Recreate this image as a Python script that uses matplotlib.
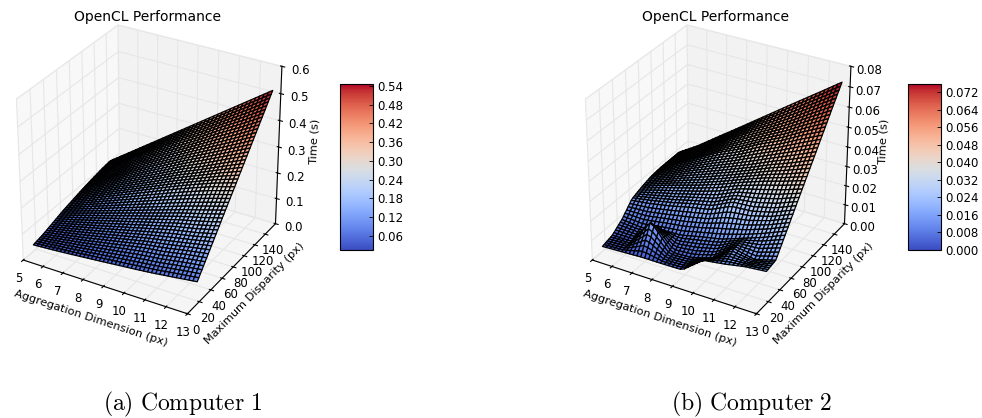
import numpy as np
import matplotlib
matplotlib.use("Agg")
import matplotlib.pyplot as plt
from matplotlib import cm
from matplotlib.colors import Normalize

# Values (one row per disparity, one column per aggregation size)
aggregation = [5, 6, 7, 8, 9, 10, 11, 12, 13]
disparity = [16, 32, 48, 64, 80, 96, 112, 128, 144]

time_computer1 = [
    [.025, .030, .036, .043, .050, .057, .065, .075, .085],
    [.034, .047, .060, .075, .090, .105, .115, .130, .142],
    [.047, .065, .085, .105, .125, .145, .165, .180, .199],
    [.060, .085, .110, .135, .160, .185, .210, .233, .256],
    [.070, .103, .136, .168, .200, .232, .262, .290, .3125],
    [.080, .118, .156, .193, .230, .268, .300, .335, .369],
    [.088, .130, .175, .220, .263, .305, .345, .385, .426],
    [.095, .145, .195, .245, .295, .340, .390, .435, .483],
    [.100, .155, .210, .265, .320, .375, .430, .485, .540],
]
time_computer2 = [
    [.0025, .0030, .0035, .0035, .0037, .0120, .0135, .0155, .0165],
    [.0040, .0040, .0175, .0050, .0055, .0085, .0170, .0146, .0175],
    [.0080, .0070, .0085, .0095, .0120, .0140, .0175, .0215, .0259],
    [.0140, .0155, .0175, .0200, .0220, .0270, .0275, .0300, .0343],
    [.0160, .0195, .0225, .0255, .0290, .0330, .0365, .0395, .0427],
    [.0175, .0215, .0260, .0300, .0340, .0380, .0425, .0465, .0510],
    [.0180, .0235, .0290, .0345, .0390, .0445, .0490, .0545, .0594],
    [.0180, .0240, .0305, .0370, .0435, .0490, .0550, .0615, .0678],
    [.0180, .0244, .0318, .0391, .0465, .0539, .0613, .0686, .0760],
]
cbar_ticks1 = [.06, .12, .18, .24, .30, .36, .42, .48, .54]
cbar_ticks2 = [0, .008, .016, .024, .032, .040, .048, .056, .064, .072]
xticks = [5, 6, 7, 8, 9, 10, 11, 12, 13]
yticks = [0, 20, 40, 60, 80, 100, 120, 140]
zticks1 = [0, .1, .2, .3, .4, .5, .6]
zticks2 = [0, .01, .02, .03, .04, .05, .06, .07, .08]
W, H = 982, 418
MESH_X, MESH_Y = 42, 50


def refine(table):
    """Resample the read table on the fine facet mesh of the surface."""
    t = np.asarray(table, float)
    xf = np.linspace(aggregation[0], aggregation[-1], MESH_X)
    yf = np.linspace(disparity[0], disparity[-1], MESH_Y)
    a = np.array([np.interp(xf, aggregation, row) for row in t])
    z = np.array([np.interp(yf, disparity, col) for col in a.T]).T
    X, Y = np.meshgrid(xf, yf)
    return X, Y, z


def panel(fig, dx, table, zt, zfmt, zmax, cb_t, cb_fmt, vmin, vmax, cap, cbx):
    ax = fig.add_axes([(dx - 33) / W, 1 - 341 / H, 330 / W, 345 / H],
                      projection="3d")
    ax.set_proj_type("persp", focal_length=1)
    ax.set_box_aspect((1, 1, .97), zoom=.955)
    ax.patch.set_alpha(0)
    X, Y, Z = refine(table)
    norm = Normalize(vmin, vmax)
    ax.plot_surface(X, Y, Z, rstride=1, cstride=1, cmap=cm.coolwarm, norm=norm,
                    edgecolor="black", linewidth=0.9, antialiased=True)
    ax.view_init(30, -60)
    ax.set_xlim(5, 13)
    ax.set_ylim(0, 160)
    ax.set_zlim(0, zmax)
    ax.set_xticks(xticks)
    ax.set_yticks(yticks)
    ax.set_zticks(zt)
    ax.set_zticklabels([zfmt % v for v in zt])
    ax.tick_params(labelsize=8.5, pad=-2)
    ax.tick_params(axis="z", pad=1)
    ax.set_xlabel("Aggregation Dimension (px)", fontsize=8.2, labelpad=-5)
    ax.set_ylabel("Maximum Disparity (px)", fontsize=8.2, labelpad=-5)
    ax.set_zlabel("Time (s)", fontsize=8.2, labelpad=-3)
    for a in (ax.xaxis, ax.yaxis, ax.zaxis):
        a._axinfo["grid"]["linewidth"] = 0.8
        a._axinfo["grid"]["color"] = "#e6e6e6"
        a._axinfo["tick"]["inward_factor"] = 0.2
        a._axinfo["tick"]["outward_factor"] = 0.1
    fig.text((dx + 132) / W, 1 - 17 / H, "OpenCL Performance", ha="center",
             va="center", fontsize=10)
    fig.text((dx + 168) / W, 1 - 404 / H, cap, ha="center", va="center",
             fontsize=17, math_fontfamily="cm")
    cax = fig.add_axes([cbx / W, 1 - 250 / H, 33 / W, 166 / H])
    cb = fig.colorbar(cm.ScalarMappable(norm=norm, cmap=cm.coolwarm), cax=cax)
    cb.set_ticks(cb_t)
    cb.set_ticklabels([cb_fmt % v for v in cb_t])
    cax.tick_params(labelsize=8.5, direction="in", length=3, width=0.6, pad=3)
    cb.outline.set_linewidth(0.8)


fig = plt.figure(figsize=(W / 100, H / 100), dpi=100)
panel(fig, 15, time_computer1, zticks1, "%.1f", .6, cbar_ticks1, "%.2f",
      .015, .546, r"$\mathrm{(a)\ Computer\ 1}$", 340)
panel(fig, 584, time_computer2, zticks2, "%.2f", .08, cbar_ticks2, "%.3f",
      0, .0757, r"$\mathrm{(b)\ Computer\ 2}$", 908)
fig.savefig("out.png", dpi=100)
